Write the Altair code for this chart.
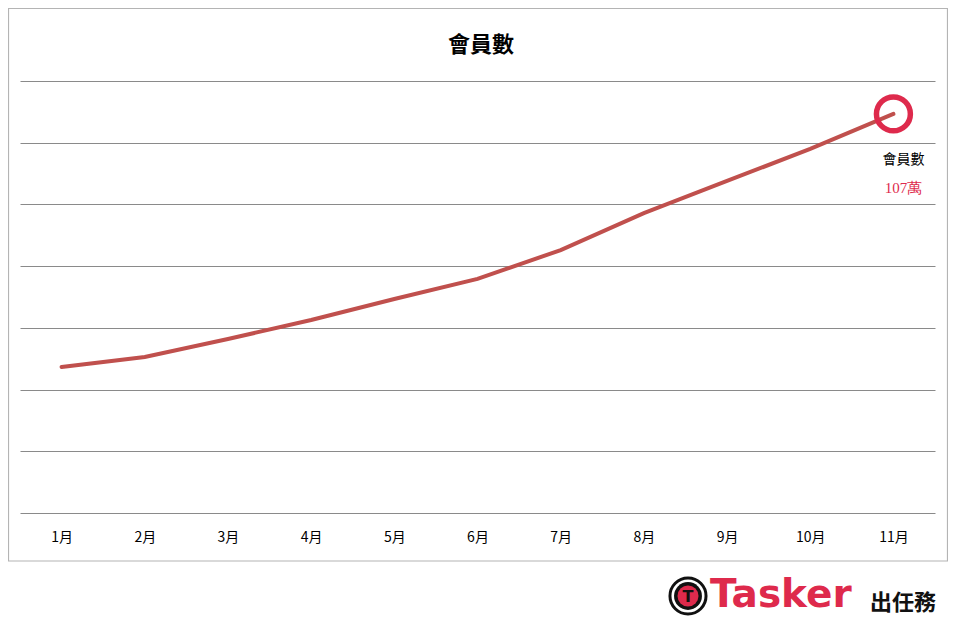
import altair as alt
import pandas as pd

months = ["1月", "2月", "3月", "4月", "5月", "6月", "7月", "8月", "9月", "10月", "11月"]
members = [45.5, 47.9, 52.3, 56.9, 62.0, 66.9, 73.9, 82.9, 90.7, 98.5, 107.0]
y_ticks = [10, 25, 40, 55, 70, 85, 100, 115]
chart_title = "會員數"
series_name = "會員數"
last_label = "107萬"

df = pd.DataFrame({"month": months, "members": members})

RED_LINE = "#C0504D"
CRIMSON = "#DE2A4C"
CJK = "Noto Sans CJK TC"

x_enc = alt.X("month:N", sort=months,
              scale=alt.Scale(type="point", padding=0.5),
              axis=alt.Axis(title=None, labelAngle=0, domain=False, ticks=False,
                            grid=False, labelFontSize=14, labelColor="#000000",
                            labelFont=CJK, labelPadding=17))
y_enc = alt.Y("members:Q",
              scale=alt.Scale(domain=[10, 115], nice=False, zero=False),
              axis=alt.Axis(title=None, values=y_ticks, labels=False, ticks=False,
                            domain=False, grid=True, gridColor="#8a8a8a", gridWidth=1))

one = alt.Data(values=[{}])

border = alt.Chart(one).mark_rect(filled=False, stroke="#b4b4b4", strokeWidth=1.2).encode(
    x=alt.value(-11.5), x2=alt.value(927.5), y=alt.value(-72.5), y2=alt.value(480))

title_txt = alt.Chart(one).mark_text(fontSize=22, fontWeight="bold", font=CJK,
                                     color="#000000", align="center",
                                     baseline="middle").encode(
    x=alt.value(461), y=alt.value(-36), text=alt.value(chart_title))

line = alt.Chart(df).mark_line(color=RED_LINE, strokeWidth=4, strokeCap="round").encode(
    x=x_enc, y=y_enc)

last = alt.Chart(df).transform_filter(alt.datum.month == months[-1])

ring = last.mark_point(shape="circle", filled=False, stroke=CRIMSON,
                       strokeWidth=5.5, size=1150, opacity=1).encode(
    x=alt.X("month:N", sort=months), y="members:Q")

name_txt = last.mark_text(fontSize=14, font=CJK, color="#000000", dx=10, dy=46,
                          align="center", baseline="middle").encode(
    x=alt.X("month:N", sort=months), y="members:Q", text=alt.value(series_name))

val_txt = last.mark_text(fontSize=15, font="Liberation Serif", color=CRIMSON, dx=10, dy=74,
                         align="center", baseline="middle").encode(
    x=alt.X("month:N", sort=months), y="members:Q", text=alt.value(last_label))

# logo (positions relative to plot origin)
LX, LY = 668, 515
logo_ring = alt.Chart(one).mark_point(shape="circle", filled=False, stroke="#111111",
                                      strokeWidth=3, size=1300, opacity=1).encode(
    x=alt.value(LX), y=alt.value(LY))
logo_visor = alt.Chart(one).mark_point(shape="circle", filled=True, color="#111111",
                                       size=780, opacity=1).encode(
    x=alt.value(LX), y=alt.value(LY))
logo_inner = alt.Chart(one).mark_point(shape="circle", filled=True, color=CRIMSON,
                                       size=440, opacity=1).encode(
    x=alt.value(LX), y=alt.value(LY))
logo_t = alt.Chart(one).mark_text(fontSize=16, fontWeight="bold", font="DejaVu Sans",
                                  color="#111111", align="center",
                                  baseline="middle").encode(
    x=alt.value(LX), y=alt.value(LY + 1), text=alt.value("T"))
logo_word = alt.Chart(one).mark_text(fontSize=39, fontWeight="bold", font="DejaVu Sans",
                                     color=CRIMSON, align="left",
                                     baseline="alphabetic").encode(
    x=alt.value(690), y=alt.value(526), text=alt.value("Tasker"))
logo_cjk = alt.Chart(one).mark_text(fontSize=22, fontWeight="bold", font=CJK,
                                    color="#111111", align="left",
                                    baseline="middle").encode(
    x=alt.value(850), y=alt.value(522), text=alt.value("出任務"))

chart = alt.layer(border, title_txt, line, ring, name_txt, val_txt,
                  logo_ring, logo_visor, logo_inner, logo_t, logo_word, logo_cjk).properties(
    width=915, height=432,
    autosize=alt.AutoSizeParams(type="none"),
    padding={"left": 12, "top": 73, "right": 13, "bottom": 103},
    background="#ffffff",
).configure_view(stroke=None)

chart.save("out.html", embed_options={"renderer": "svg", "actions": False})
